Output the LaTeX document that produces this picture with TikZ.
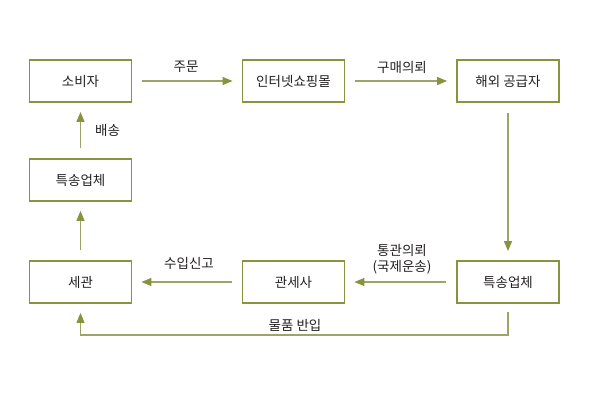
\documentclass[tikz,border=0pt]{standalone}
\usepackage{fontspec}
\setmainfont{Noto Sans CJK KR}
\usetikzlibrary{arrows.meta}
\definecolor{boxc}{RGB}{137,146,62}
\definecolor{linec}{RGB}{158,164,104}
\definecolor{txtc}{RGB}{35,31,32}
\tikzset{
  stagebox/.style={draw=boxc, line width=1.8pt, minimum width=102pt, minimum height=42pt, inner sep=0pt, font=\fontsize{13.5pt}{15pt}\selectfont, text=txtc},
  flow/.style={draw=linec, line width=1.2pt, -{Triangle[length=10pt,width=8pt,fill=boxc,color=boxc]}, shorten >=9pt, shorten <=10pt},
  lbl/.style={font=\fontsize{13.5pt}{16pt}\selectfont, text=txtc, inner sep=0pt, align=center}
}
\begin{document}
\begin{tikzpicture}[x=1pt,y=1pt]
\useasboundingbox (0,0) rectangle (590,400);
\node[stagebox] (consumer) at (80.5,319) {소비자};
\node[stagebox] (mall) at (293.5,319) {인터넷쇼핑몰};
\node[stagebox] (supplier) at (508,319) {해외 공급자};
\node[stagebox] (courierL) at (80.5,220) {특송업체};
\node[stagebox] (customs) at (80.5,118) {세관};
\node[stagebox] (broker) at (293.5,118) {관세사};
\node[stagebox] (courierR) at (508,118) {특송업체};
\draw[flow] (consumer) -- (mall);
\draw[flow] (mall) -- (supplier);
\draw[flow] (supplier) -- (courierR);
\draw[flow] (courierR) -- (broker);
\draw[flow] (broker) -- (customs);
\draw[flow] (customs) -- (courierL);
\draw[flow] (courierL) -- (consumer);
\coordinate (bl) at (80.5,65);
\coordinate (br) at (508,65);
\draw[flow, shorten <=0pt] ([yshift=-8pt]courierR.south) -- (br) -- (bl) -- (customs.south);
\node[lbl] (l1) at (186,333) {주문};
\node[lbl] (l2) at (402,333) {구매의뢰};
\node[lbl, anchor=west] (l3) at (95,270) {배송};
\node[lbl] (l4) at (189,137) {수입신고};
\node[lbl] (l5) at (402,150) {통관의뢰};
\node[lbl] (l6) at (402,133) {(국제운송)};
\node[lbl] (l7) at (295,75) {물품 반입};
\end{tikzpicture}
\end{document}
